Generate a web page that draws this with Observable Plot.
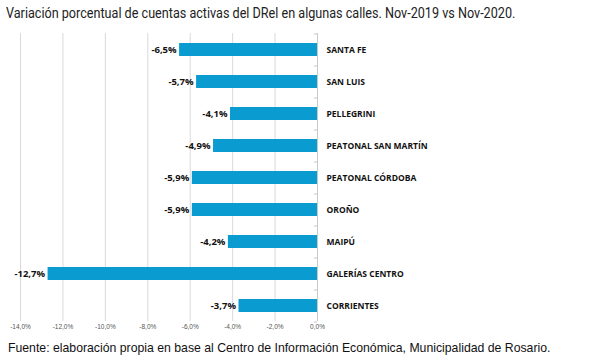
<!DOCTYPE html>
<html>
<head>
<meta charset="utf-8">
<script src="https://cdn.jsdelivr.net/npm/d3@7"></script>
<script src="https://cdn.jsdelivr.net/npm/@observablehq/plot@0.6"></script>
<style>
  body { margin: 0; background: #fff; width: 590px; height: 360px; overflow: hidden; }
  #title { font-family: Roboto, sans-serif; font-size: 14.5px; color: #222; margin: 5px 0 0 6px; height: 23px; line-height: 18px; white-space: nowrap; transform: scaleX(0.87); transform-origin: left center; }
  #caption { font-family: "Liberation Sans", Arial, sans-serif; font-size: 13px; color: #111; margin: 6px 0 0 8px; white-space: nowrap; transform: scaleX(0.943); transform-origin: left center; }
  #chart svg { display: block; }
</style>
</head>
<body>
<div id="title">Variación porcentual de cuentas activas del DRel en algunas calles. Nov-2019 vs Nov-2020.</div>
<div id="chart"></div>
<div id="caption">Fuente: elaboración propia en base al Centro de Información Económica, Municipalidad de Rosario.</div>
<script>
const calles = ["SANTA FE", "SAN LUIS", "PELLEGRINI", "PEATONAL SAN MARTÍN", "PEATONAL CÓRDOBA", "OROÑO", "MAIPÚ", "GALERÍAS CENTRO", "CORRIENTES"];
const variacion = [-6.5, -5.7, -4.1, -4.9, -5.9, -5.9, -4.2, -12.7, -3.7];
const xTicks = [-14, -12, -10, -8, -6, -4, -2, 0];

const data = calles.map((c, i) => ({calle: c, v: variacion[i]}));
const fmt = v => v.toFixed(1).replace(".", ",") + "%";

const chart = Plot.plot({
  width: 590,
  height: 306,
  marginLeft: 20,
  marginRight: 273,
  marginTop: 5,
  marginBottom: 13,
  style: {fontFamily: "'Open Sans', sans-serif", background: "#fff"},
  x: {domain: [-14, 0], ticks: xTicks, tickFormat: fmt, label: null},
  y: {domain: calles, paddingInner: 0.6, paddingOuter: 0.3, label: null},
  marks: [
    Plot.ruleX(xTicks, {stroke: "#d9d9d9", strokeWidth: 1}),
    Plot.ruleY(data, {y: "calle", x1: -0.15, x2: 0, dy: -16, stroke: "#c8c8c8"}),
    Plot.ruleY(data.slice(-1), {y: "calle", x1: -0.15, x2: 0, dy: 16, stroke: "#c8c8c8"}),
    Plot.ruleX([0], {stroke: "#c8c8c8", strokeWidth: 1}),
    Plot.barX(data, {x1: 0, x2: "v", y: "calle", fill: "#0a9bd1"}),
    Plot.text(data, {x: "v", y: "calle", text: d => fmt(d.v), textAnchor: "end", dx: -3, fontWeight: "bold", fontSize: 9.5, fill: "#111"}),
    Plot.axisX({ticks: xTicks, tickFormat: fmt, tickSize: 0, tickPadding: 3, fontSize: 6.5, fill: "#555", label: null, fontFamily: "'Liberation Sans Narrow', 'Liberation Sans', sans-serif"}),
    Plot.axisY({anchor: "right", tickSize: 0, tickPadding: 9, textAnchor: "start", fontWeight: "bold", fontSize: 8.5, fill: "#111", label: null})
  ]
});
document.getElementById("chart").appendChild(chart);
</script>
</body>
</html>
